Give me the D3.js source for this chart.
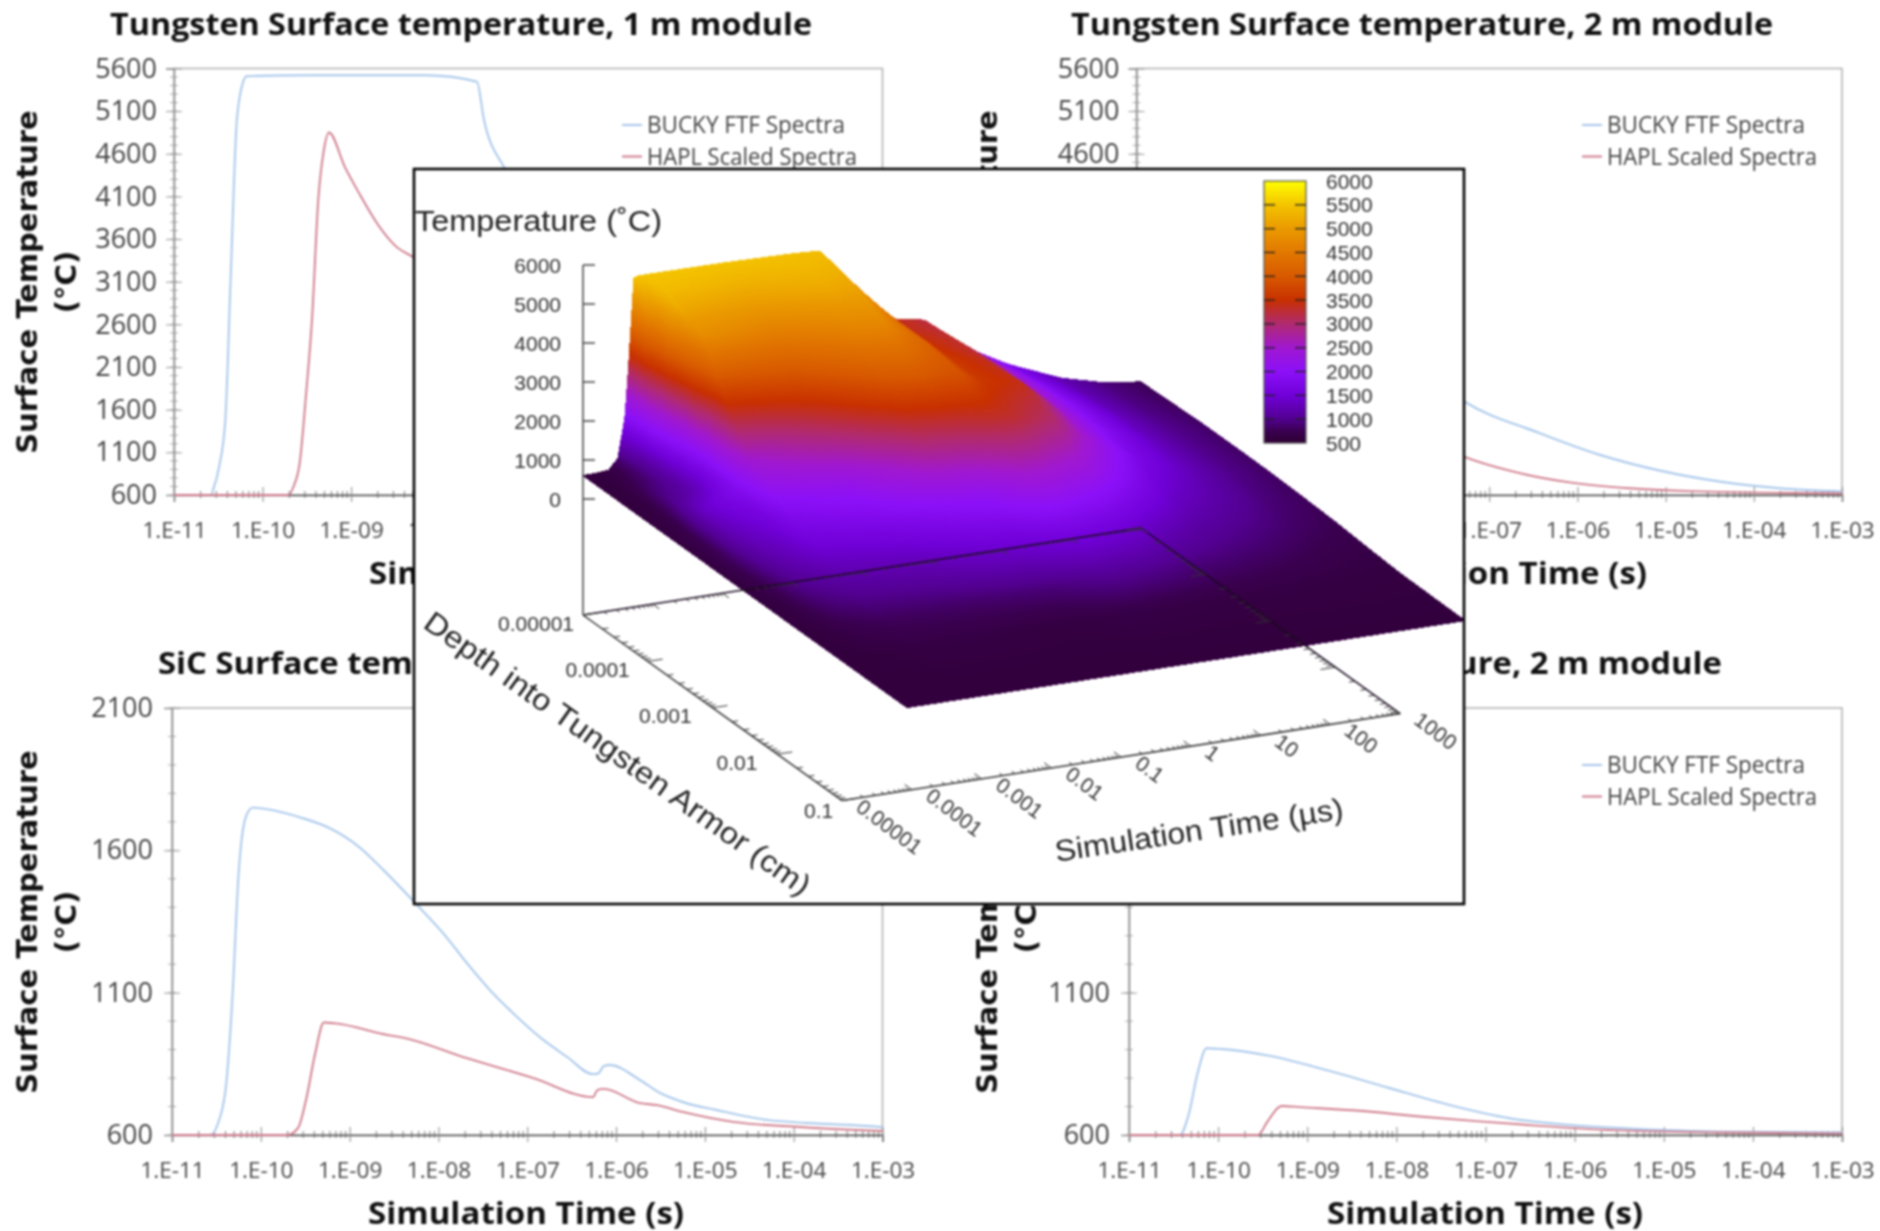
<!DOCTYPE html>
<html><head><meta charset="utf-8">
<script src="https://cdn.jsdelivr.net/npm/d3@7"></script>
<style>html,body{margin:0;padding:0;background:#fff}svg{display:block;filter:blur(0.8px)}</style>
</head><body><svg id="c" width="1880" height="1231"></svg>
<script>
// ---------- 2D panels: time exponents (log10 s) and temperatures (deg C)
const xExponents = [-11,-10,-9,-8,-7,-6,-5,-4,-3];
const xTickLabels = ["1.E-11","1.E-10","1.E-09","1.E-08","1.E-07","1.E-06","1.E-05","1.E-04","1.E-03"];
const wTicks = [600,1100,1600,2100,2600,3100,3600,4100,4600,5100,5600];
const sicTicks = [600,1100,1600,2100];
const legendNames = ["BUCKY FTF Spectra","HAPL Scaled Spectra"];
const xTitle = "Simulation Time (s)";
const yTitle = "Surface Temperature";
const yUnit = "(\u00B0C)";

const w1BuckyT = [-11,-10.58,-10.56,-10.49,-10.42,-10.36,-10.29,-10.22,-10.18,-9.5,-8.16,-7.58,-7.5,-7.28,-6.99,-6.71,-6.1,-5.52,-4.88,-4.15,-3.59,-3];
const w1BuckyV = [600,600,655,933,1487,3150,4998,5440,5510,5520,5520,5445,5000,4455,4115,3430,3220,2340,1750,1190,930,770];
const w1HaplT = [-11,-9.71,-9.65,-9.58,-9.51,-9.44,-9.37,-9.31,-9.25,-9.07,-8.9,-8.7,-8.5,-8.29,-7.9,-7.4,-6.9,-6.3,-5.6,-4.9,-4,-3];
const w1HaplV = [600,600,700,980,1764,2688,4074,4628,4850,4444,4120,3774,3520,3381,3000,2650,2300,1800,1300,950,700,630];

const w2BuckyT = [-11,-10.5,-10.35,-10.2,-10.05,-9.5,-9,-8.5,-8,-7.28,-6.43,-5.75,-5.07,-4.39,-3.71,-3];
const w2BuckyV = [600,600,1100,2300,3050,3000,2900,2700,2300,1695,1326,1072,887,758,679,642];
const w2HaplT = [-11,-9.65,-9.5,-9.35,-9.25,-8.7,-8.1,-7.28,-6.77,-6.09,-5.41,-4.73,-3];
const w2HaplV = [600,600,1000,1800,2300,1950,1500,1048,886,748,679,646,618];

const s1BuckyT = [-11,-10.57,-10.47,-10.39,-10.32,-10.25,-10.17,-10.09,-9.9,-9.56,-9.22,-8.89,-8.62,-8.24,-7.95,-7.68,-7.42,-7.16,-6.86,-6.55,-6.26,-6.2,-6.14,-6.07,-5.73,-5.5,-5.25,-4.87,-4.3,-3.85,-3.03,-3];
const s1BuckyV = [600,600,652,777,1081,1518,1716,1750,1743,1716,1677,1611,1531,1408,1310,1204,1109,1028,944,874,814,816,842,846,793,747,716,688,653,642,628,627];
const s1HaplT = [-11,-9.7,-9.58,-9.49,-9.39,-9.29,-9.16,-8.55,-8.43,-7.68,-6.93,-6.26,-6.21,-6.14,-5.73,-5.54,-5.25,-4.68,-3.93,-3];
const s1HaplV = [600,600,625,724,883,995,992,950,944,870,800,733,758,762,712,705,681,646,628,614];

const s2BuckyT = [-11,-10.43,-10.33,-10.23,-10.13,-9.96,-9.42,-8.75,-8.08,-7.4,-6.73,-6.06,-5.39,-4.38,-3];
const s2BuckyV = [600,600,672,818,905,902,878,825,765,705,659,635,623,612,609];
const s2HaplT = [-11,-9.55,-9.45,-9.29,-9.08,-8.41,-7.74,-7.07,-6.39,-5.72,-4.38,-3];
const s2HaplV = [600,600,645,702,698,685,665,648,632,619,609,605];

// ---------- Surface: time exponents (log10 us), depth exponents (log10 cm), temperature rows
const surfaceTimes = [-5,-4.8,-4.63,-4.5,-4.4,-4.35,-4.27,-4.2,-4.15,-4.08,-4,-3,-2,-1.6,-1,-0.7,-0.1,0.5,1.1,1.85,2.4,3];
const surfaceDepths = [-5,-4.75,-4.5,-4.25,-4,-3.5,-3,-2.5,-2,-1.5,-1,-0.5,0];
const surfaceTemps = [
 [600,610,640,900,1900,3100,5460,5500,5500,5500,5500,5490,5450,5410,4115,3430,3220,2340,1750,1190,930,770],
 [600,610,700,850,1100,1900,4800,5000,5300,5400,5400,5300,5350,5300,4110,3450,3250,2400,1790,1220,945,785],
 [600,615,800,900,1050,1250,2600,4600,4800,5250,5100,5000,5200,5150,4100,3500,3300,2500,1850,1250,960,800],
 [600,630,900,1000,1100,1150,1500,2400,3600,4200,4800,4600,4900,4950,4100,3550,3300,2500,1880,1280,980,815],
 [600,650,1000,1100,1200,1250,1400,1700,2300,3000,3900,4100,4650,4700,4100,3600,3350,2500,1900,1300,1000,830],
 [600,750,1400,1550,1650,1700,1800,1850,2050,2250,2500,3200,3900,4000,3900,3600,3400,2450,1850,1300,1000,830],
 [600,800,1200,1350,1400,1450,1500,1550,1650,1750,1900,2200,3000,3100,3300,3300,3000,2300,1700,1250,980,820],
 [600,720,950,1150,1200,1250,1300,1350,1400,1450,1500,1700,2000,2100,2500,2500,2300,1850,1400,1120,920,790],
 [600,650,800,900,950,980,1000,1020,1040,1050,1100,1200,1450,1500,1700,1700,1550,1300,1100,950,840,750],
 [600,620,650,700,720,730,750,760,770,780,800,830,880,900,1000,1050,1000,900,850,780,720,680],
 [600,600,600,610,610,610,620,620,620,630,640,650,620,630,680,680,660,650,650,640,630,620],
 [600,600,600,600,600,600,600,600,600,600,605,605,605,605,610,610,610,610,610,610,610,610],
 [600,600,600,600,600,600,600,600,600,600,600,600,600,600,600,600,600,600,600,600,600,600]
];
const zTicks = [0,1000,2000,3000,4000,5000,6000];
const insetTimeLabels = ["0.00001","0.0001","0.001","0.01","0.1","1","10","100","1000"];
const insetTimeValues = [1e-5,1e-4,1e-3,1e-2,1e-1,1,10,100,1000];
const insetDepthLabels = ["0.00001","0.0001","0.001","0.01","0.1"];
const insetDepthValues = [1e-5,1e-4,1e-3,1e-2,1e-1];
const colorTemps = [500,750,1000,1500,2000,2500,3000,3500,4000,4500,5000,5500,6000];
const colorValues = ["#2e0032","#3a0050","#520090","#7000d8","#8c10f8","#a018d0","#b02a70","#c83000","#d85a00","#e27800","#ea9a00","#f4c400","#ffff00"];
const colorLabels = [6000,5500,5000,4500,4000,3500,3000,2500,2000,1500,1000,500];

const svg = d3.select("#c");
const blue = "#a6c6ea", red = "#d07c8c";
const pan = "'Open Sans',sans-serif", wide = "'DejaVu Sans',sans-serif", ar = "'Liberation Sans',Arial,sans-serif";

function panel(o){
  const g = svg.append("g");
  const x = d3.scaleLog().domain([1e-11,1e-3]).range([o.l,o.r]);
  const y = d3.scaleLinear().domain(o.dom).range([o.b,o.t]);
  g.append("rect").attr("x",o.l).attr("y",o.t).attr("width",o.r-o.l).attr("height",o.b-o.t)
    .attr("fill","none").attr("stroke","#b4b4b4").attr("stroke-width",1.6);
  const minorX=[]; xExponents.slice(0,-1).forEach(e=>{for(let m=2;m<10;m++)minorX.push(m*10**e);});
  g.append("g").selectAll("line").data(minorX).join("line")
    .attr("x1",d=>x(d)).attr("x2",d=>x(d)).attr("y1",o.b-4).attr("y2",o.b+3).attr("stroke","#777").attr("stroke-width",1);
  const minorY=d3.range(o.dom[0],o.dom[1]+1,100);
  g.append("g").selectAll("line").data(minorY).join("line")
    .attr("x1",o.l-4).attr("x2",o.l+4).attr("y1",d=>y(d)).attr("y2",d=>y(d)).attr("stroke","#aaa").attr("stroke-width",1);
  const ax = d3.axisBottom(x).tickValues(xExponents.map(e=>10**e)).tickFormat((d,i)=>xTickLabels[i]).tickSize(7).tickPadding(20);
  const gx = g.append("g").attr("transform",`translate(0,${o.b})`).call(ax);
  gx.select(".domain").attr("stroke","#555").attr("stroke-width",1.6);
  gx.selectAll("line").attr("y1",-8).attr("y2",7).attr("stroke","#888");
  gx.selectAll("text").attr("font-family",pan).attr("font-size",22.5).attr("fill","#444");
  const ay = d3.axisLeft(y).tickValues(o.ticks).tickFormat(d3.format("d")).tickSize(8).tickPadding(o.pad);
  const gy = g.append("g").attr("transform",`translate(${o.l},0)`).call(ay);
  gy.select(".domain").attr("stroke","#888").attr("stroke-width",1.4);
  gy.selectAll("line").attr("x2",-8).attr("x1",8).attr("stroke","#999");
  gy.selectAll("text").attr("font-family",pan).attr("font-size",27).attr("fill","#444");
  const line = d3.line().x(d=>x(10**d[0])).y(d=>y(d[1])).curve(d3.curveMonotoneX);
  [[o.bt,o.bv,blue],[o.ht,o.hv,red]].forEach(s=>{
    g.append("path").attr("d",line(d3.zip(s[0],s[1]))).attr("fill","none").attr("stroke",s[2]).attr("stroke-width",1.9).attr("stroke-linejoin","round");
  });
  legendNames.forEach((n,i)=>{
    const ly=o.ly+i*31.5;
    g.append("line").attr("x1",o.lx-25).attr("x2",o.lx-5).attr("y1",ly).attr("y2",ly).attr("stroke",i?red:blue).attr("stroke-width",2);
    g.append("text").attr("x",o.lx).attr("y",ly).attr("dy","0.35em").attr("font-family",pan).attr("font-size",23).attr("fill","#444")
      .attr("textLength",i?210:198).attr("lengthAdjust","spacingAndGlyphs").text(n);
  });
  g.append("text").attr("x",o.tx).attr("y",o.ty).attr("dy","0.35em").attr("font-family",pan).attr("font-weight",700).attr("font-size",30)
    .attr("fill","#111").attr("textLength",o.tw).attr("lengthAdjust","spacingAndGlyphs").text(o.title);
  g.append("text").attr("x",o.xtx).attr("y",o.xty).attr("dy","0.35em").attr("font-family",pan).attr("font-weight",700).attr("font-size",31)
    .attr("fill","#111").attr("textLength",316).attr("lengthAdjust","spacingAndGlyphs").text(xTitle);
  const yt=(x0,y0,t)=>{g.append("text").attr("transform",`translate(${x0},${y0}) rotate(-90)`).attr("text-anchor","middle").attr("dy","0.35em")
    .attr("font-family",wide).attr("font-weight",700).attr("font-size",29).attr("fill","#111").text(t);};
  yt(o.ylx,o.yly,yTitle); yt(o.ylx+39,o.yly,yUnit);
}

panel({l:174,r:882.5,t:68.5,b:495,dom:[600,5600],ticks:wTicks,pad:9,bt:w1BuckyT,bv:w1BuckyV,ht:w1HaplT,hv:w1HaplV,
  lx:647,ly:125,tx:110,ty:24,tw:702,title:"Tungsten Surface temperature, 1 m module",xtx:369,xty:573,ylx:27,yly:282});
panel({l:1136.5,r:1842,t:68.5,b:495,dom:[600,5600],ticks:wTicks,pad:9,bt:w2BuckyT,bv:w2BuckyV,ht:w2HaplT,hv:w2HaplV,
  lx:1607,ly:125,tx:1071,ty:24,tw:702,title:"Tungsten Surface temperature, 2 m module",xtx:1331,xty:573,ylx:987,yly:282});
panel({l:172,r:882.5,t:708,b:1135,dom:[600,2100],ticks:sicTicks,pad:11,bt:s1BuckyT,bv:s1BuckyV,ht:s1HaplT,hv:s1HaplV,
  lx:647,ly:765,tx:158,ty:663,tw:610,title:"SiC Surface temperature, 1 m module",xtx:368,xty:1213,ylx:27,yly:922});
panel({l:1129,r:1842,t:708,b:1135,dom:[600,2100],ticks:sicTicks,pad:11,bt:s2BuckyT,bv:s2BuckyV,ht:s2HaplT,hv:s2HaplV,
  lx:1607,ly:765,tx:1112,ty:663,tw:610,title:"SiC Surface temperature, 2 m module",xtx:1327,xty:1213,ylx:987,yly:922});

// ---------- Inset
const inset = svg.append("g");
const IX=414, IY=169, IW=1050, IH=735;
inset.append("rect").attr("x",IX).attr("y",IY).attr("width",IW).attr("height",IH).attr("fill","#fff");
svg.append("defs").append("clipPath").attr("id","ic").append("rect").attr("x",IX).attr("y",IY).attr("width",IW).attr("height",IH);
const plot = inset.append("g").attr("clip-path","url(#ic)");

const tx = d3.scaleLog().domain([1e-5,1e3]).range([0,558]);
const ty = d3.scaleLog().domain([1e-5,1e3]).range([0,-87]);
const dx = d3.scaleLog().domain([1e-5,1]).range([0,324]);
const dy = d3.scaleLog().domain([1e-5,1]).range([0,232]);
const zy = d3.scaleLinear().domain([0,6000]).range([0,-234]);
const O = [583,499], floorDrop = 116;
const proj = (t,d,T)=>[O[0]+tx(t)+dx(d), O[1]+ty(t)+dy(d)+zy(T)];
const fl = (t,d)=>[O[0]+tx(t)+dx(d), O[1]+ty(t)+dy(d)+floorDrop];
const color = d3.scaleLinear().domain(colorTemps).range(colorValues);

const corners = {a:fl(1e-5,1e-5), b:fl(1e3,1e-5), c:fl(1e3,1e-1), d:fl(1e-5,1e-1)};
const seg=(g,p,q,w,c)=>g.append("line").attr("x1",p[0]).attr("y1",p[1]).attr("x2",q[0]).attr("y2",q[1]).attr("stroke",c||"#333").attr("stroke-width",w||1.5);

// surface patches: read grid values, shaded cell by cell, back to front
const patches=[];
const clampN=(n,a,b)=>Math.max(a,Math.min(b,Math.ceil(n)));
for(let j=0;j<surfaceDepths.length-1;j++){
  for(let i=surfaceTimes.length-2;i>=0;i--){
    const t00=surfaceTemps[j][i],t10=surfaceTemps[j][i+1],t01=surfaceTemps[j+1][i],t11=surfaceTemps[j+1][i+1];
    const dU=Math.max(Math.abs(t10-t00),Math.abs(t11-t01)), dV=Math.max(Math.abs(t01-t00),Math.abs(t11-t10));
    const SU=clampN(Math.max(dU/50,(surfaceTimes[i+1]-surfaceTimes[i])*70/4),2,20);
    const SV=clampN(Math.max(dV/40,(surfaceDepths[j+1]-surfaceDepths[j])*65/3),3,20);
    for(let v=0;v<SV;v++){
      for(let u=SU-1;u>=0;u--){
        const corner=(uu,vv)=>{
          const a=uu/SU,b=vv/SV;
          const T=(1-b)*((1-a)*t00+a*t10)+b*((1-a)*t01+a*t11);
          const lt=surfaceTimes[i]+a*(surfaceTimes[i+1]-surfaceTimes[i]);
          const ld=surfaceDepths[j]+b*(surfaceDepths[j+1]-surfaceDepths[j]);
          return {p:proj(10**lt,10**ld,T),T};
        };
        const c=[corner(u,v),corner(u+1,v),corner(u+1,v+1),corner(u,v+1)];
        patches.push({pts:c.map(e=>e.p.join(",")).join(" "),T:d3.mean(c,e=>e.T)});
      }
    }
  }
}
plot.append("g").attr("shape-rendering","crispEdges").selectAll("polygon").data(patches).join("polygon")
  .attr("points",d=>d.pts).attr("fill",d=>color(d.T)).attr("stroke",d=>color(d.T)).attr("stroke-width",1);

// floor axes, seen through the surface
seg(plot,corners.a,corners.b,1.5,"#1a0a20");
seg(plot,corners.b,corners.c,1.5,"#1a0a20");
seg(plot,corners.c,corners.d,1.5,"#333");
seg(plot,corners.d,corners.a,1.5,"#333");

const decades=d3.range(-5,3), dDecades=d3.range(-5,-1);
const mins=(arr)=>{const r=[];arr.forEach(e=>{for(let m=1;m<10;m++)r.push({v:m*10**e,major:m===1});});return r;};
const tt=mins(decades); tt.push({v:1e3,major:true});
const dt=mins(dDecades); dt.push({v:1e-1,major:true});
const tg=plot.append("g").attr("stroke","#333").attr("stroke-width",1);
tt.forEach(o=>{
  const p=fl(o.v,1e-1); const L=o.major?-9:-4;
  tg.append("line").attr("x1",p[0]).attr("y1",p[1]).attr("x2",p[0]+L*0.81).attr("y2",p[1]+L*0.58);
  const q=fl(o.v,1e-5); const M=o.major?8:4;
  tg.append("line").attr("x1",q[0]).attr("y1",q[1]).attr("x2",q[0]+M*0.81).attr("y2",q[1]+M*0.58);
});
dt.forEach(o=>{
  const p=fl(1e-5,o.v); const L=o.major?15:6;
  tg.append("line").attr("x1",p[0]).attr("y1",p[1]).attr("x2",p[0]+L*0.99).attr("y2",p[1]-L*0.15);
  const q=fl(1e3,o.v); const M=o.major?-15:-6;
  tg.append("line").attr("x1",q[0]).attr("y1",q[1]).attr("x2",q[0]+M*0.99).attr("y2",q[1]-M*0.15);
});

seg(inset,[O[0],O[1]+zy(6000)],corners.a,1.5,"#444");
zTicks.forEach(v=>{
  const y=O[1]+zy(v);
  seg(inset,[O[0],y],[O[0]+12,y],1.5,"#444");
  inset.append("text").attr("x",561).attr("y",y).attr("dy","0.36em").attr("text-anchor","end").attr("font-family",ar).attr("font-size",21).attr("fill","#333").text(v);
});
insetDepthValues.forEach((v,i)=>{
  const p=fl(1e-5,v);
  inset.append("text").attr("x",p[0]-[9,18,21,20,9][i]).attr("y",p[1]+(i==4?10:8)).attr("dy","0.36em").attr("text-anchor","end").attr("font-family",ar).attr("font-size",21).attr("fill","#333").text(insetDepthLabels[i]);
});
insetTimeValues.forEach((v,i)=>{
  const p=fl(v,1e-1);
  inset.append("text").attr("transform",`translate(${p[0]+17},${p[1]+3}) rotate(37)`).attr("dy","0.36em").attr("font-family",ar).attr("font-size",21).attr("fill","#333").text(insetTimeLabels[i]);
});
inset.append("text").attr("x",415).attr("y",220).attr("dy","0.36em").attr("font-family",ar).attr("font-size",30).attr("fill","#222")
  .attr("textLength",247).attr("lengthAdjust","spacingAndGlyphs").text("Temperature (\u02DAC)");
inset.append("text").attr("transform","translate(428,618) rotate(35.4)").attr("dy","0.36em").attr("font-family",ar).attr("font-size",30).attr("fill","#222")
  .attr("textLength",466).attr("lengthAdjust","spacingAndGlyphs").text("Depth into Tungsten Armor (cm)");
inset.append("text").attr("transform","translate(1055,851) rotate(-8.5)").attr("dy","0.36em").attr("font-family",ar).attr("font-size",30).attr("fill","#222")
  .attr("textLength",291).attr("lengthAdjust","spacingAndGlyphs").text("Simulation Time (\u00B5s)");

const barY=d3.scaleLinear().domain([500,6000]).range([443,181]);
const grad=svg.select("defs").append("linearGradient").attr("id","cb").attr("x1",0).attr("x2",0).attr("y1",1).attr("y2",0);
colorTemps.forEach(v=>grad.append("stop").attr("offset",(v-500)/5500).attr("stop-color",color(v)));
inset.append("rect").attr("x",1264).attr("y",barY(6000)).attr("width",42).attr("height",barY(500)-barY(6000)).attr("fill","url(#cb)").attr("stroke","#555").attr("stroke-width",1.2);
colorLabels.forEach(v=>{
  const y=barY(v);
  if(v!==500&&v!==6000){seg(inset,[1264,y],[1275,y],1.3,"#222");seg(inset,[1295,y],[1306,y],1.3,"#222");}
  inset.append("text").attr("x",1326).attr("y",y).attr("dy","0.36em").attr("font-family",ar).attr("font-size",21).attr("fill","#333").text(v);
});
inset.append("rect").attr("x",IX).attr("y",IY).attr("width",IW).attr("height",IH).attr("fill","none").attr("stroke","#000").attr("stroke-width",2.6);
</script></body></html>
